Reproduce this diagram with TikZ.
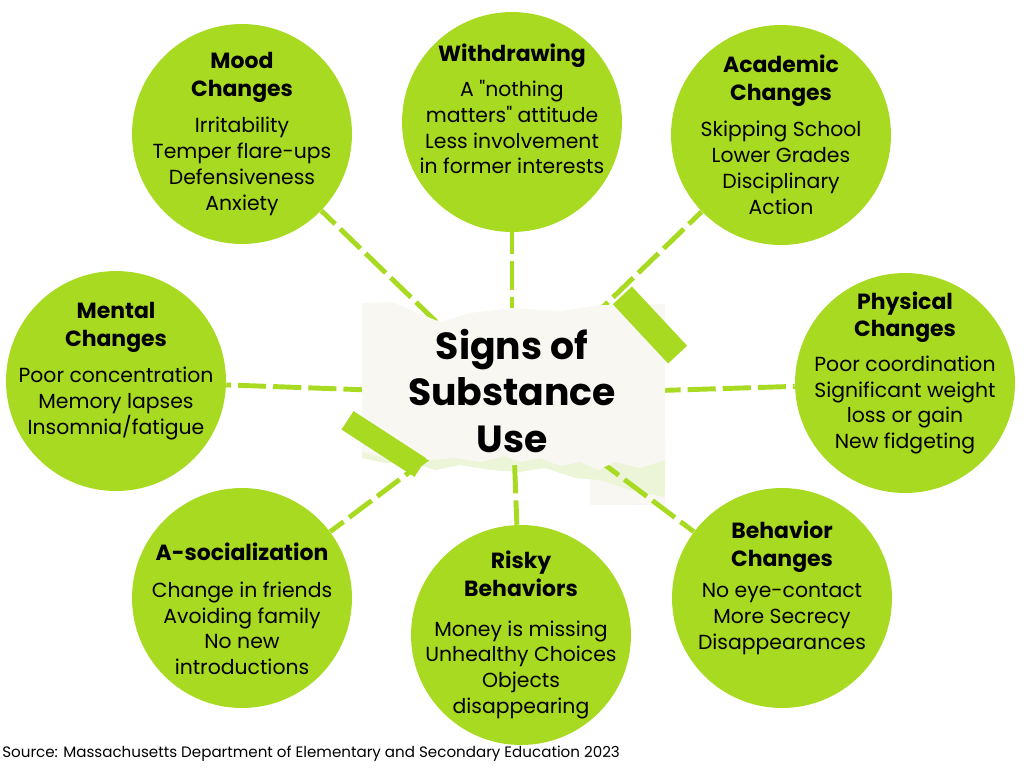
\documentclass[tikz,border=0pt]{standalone}
\usepackage{fontspec}
\setmainfont{Poppins}[Ligatures=TeXOff]
\usetikzlibrary{calc}

\definecolor{lime}{HTML}{A8DA21}
\definecolor{paper}{HTML}{F8F7F2}
\definecolor{paperedge}{HTML}{EDF5D8}

\pgfdeclarelayer{sheet}
\pgfdeclarelayer{links}
\pgfdeclarelayer{paper}
\pgfsetlayers{sheet,links,paper,main}

\newcommand{\head}[1]{{\fontsize{12.5}{15.5}\selectfont\bfseries #1}}

\begin{document}
\begin{tikzpicture}[x=0.02cm, y=-0.02cm,
		bubble/.style={circle, fill=lime, minimum size=4.4cm, inner sep=-30pt, align=center,
			font=\fontsize{11.6}{14.7}\selectfont},
		link/.style={draw=lime, line width=2.8pt, dash pattern=on 16pt off 4pt},
		tape/.style={fill=lime, inner sep=0pt}]
		\useasboundingbox (0,0) rectangle (1024,768);
		
		\coordinate (hub) at (512,395);
		
		\node[bubble] (mood) at (242,134) {\head{Mood}\\[1pt]\head{Changes}\\[6pt]
			Irritability\\Temper flare-ups\\Defensiveness\\Anxiety};
		\node[bubble] (withdraw) at (512,122) {\head{Withdrawing}\\[5pt]
			A "nothing\\matters" attitude\\Less involvement\\in former interests\\\mbox{}};
		\node[bubble] (academic) at (781,135) {\head{Academic}\\[1pt]\head{Changes}\\[6pt]
			Skipping School\\Lower Grades\\Disciplinary\\Action};
		\node[bubble] (mental) at (116,381) {\head{Mental}\\[1pt]\head{Changes}\\[6pt]
			Poor concentration\\Memory lapses\\Insomnia/fatigue\\\mbox{}};
		\node[bubble] (physical) at (905,383) {\head{Physical}\\[1pt]\head{Changes}\\[5pt]
			Poor coordination\\Significant weight\\loss or gain\\New fidgeting\\\mbox{}};
		\node[bubble] (asocial) at (242,598) {\mbox{}\\[8pt]\head{A-socialization}\\[6pt]
			Change in friends\\Avoiding family\\No new\\introductions};
		\node[bubble] (risky) at (521,635) {\head{Risky}\\[1pt]\head{Behaviors}\\[8pt]
			Money is missing\\Unhealthy Choices\\Objects\\disappearing};
		\node[bubble] (behavior) at (782,598) {\head{Behavior}\\[1pt]\head{Changes}\\[3pt]
			No eye-contact\\More Secrecy\\Disappearances\\\mbox{}};
		
		% torn sheet behind the links
		\begin{pgfonlayer}{sheet}
			\fill[paper] (590,440) rectangle (665,505);
			\fill[paperedge] (362,440) -- (665,440) -- (665,497) -- (630,490) -- (600,480)
				-- (575,478) -- (545,468) -- (520,472) -- (490,470) -- (460,465)
				-- (435,470) -- (410,462) -- (385,463) -- (362,458) -- cycle;
		\end{pgfonlayer}
		
		\begin{pgfonlayer}{links}
			\foreach \n in {mood,withdraw,academic,mental,physical,asocial,risky,behavior}
				\draw[link] (hub) -- (\n);
		\end{pgfonlayer}
		
		\begin{pgfonlayer}{paper}
			\fill[paper] (362,303) -- (392,302) -- (418,313) -- (440,322) -- (470,313)
				-- (512,308) -- (560,311) -- (600,305) -- (640,305) -- (665,304)
				-- (665,460) -- (640,468) -- (615,462) -- (598,470) -- (580,462)
				-- (560,466) -- (540,458) -- (520,462) -- (505,456) -- (480,462)
				-- (455,458) -- (430,460) -- (405,455) -- (385,458) -- (362,452) -- cycle;
		\end{pgfonlayer}
		
		\node[tape, rotate=-47, minimum width=1.62cm, minimum height=0.52cm] (tapeA) at (650,325) {};
		\node[tape, rotate=-33, minimum width=1.74cm, minimum height=0.44cm] (tapeB) at (384,444) {};
		
		\node[align=center, font=\fontsize{21.5}{26.6}\selectfont\bfseries] (title) at (512,391)
			{Signs of\\Substance\\Use};
		
		\node[anchor=base west, inner sep=0pt, font=\fontsize{8.6}{10}\selectfont] (source) at (2,757)
			{Source: Massachusetts Department of Elementary and Secondary Education 2023};
	\end{tikzpicture}
\end{document}
